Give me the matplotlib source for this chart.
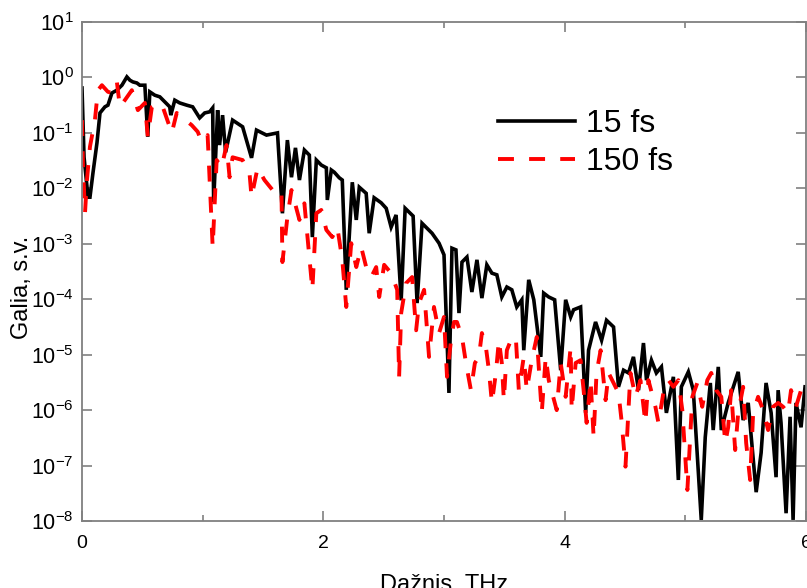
import numpy as np
import matplotlib
matplotlib.use("Agg")
import matplotlib.pyplot as plt
from matplotlib.ticker import FixedLocator, LogLocator, NullLocator, NullFormatter

plt.rcParams['font.family'] = ['Liberation Sans', 'DejaVu Sans']
plt.rcParams['mathtext.fontset'] = 'custom'
plt.rcParams['mathtext.rm'] = 'Liberation Sans'
plt.rcParams['mathtext.it'] = 'Liberation Sans:italic'
plt.rcParams['mathtext.bf'] = 'Liberation Sans:bold'

# ---- data: frequency (THz) and log10 of spectral power (a.u.) ----
freq_15fs = [0.0, 0.017, 0.05, 0.066, 0.091, 0.124, 0.149, 0.19, 0.215, 0.248, 0.289, 0.331, 0.372, 0.397,
             0.421, 0.455, 0.479, 0.521, 0.545, 0.562, 0.603, 0.645, 0.686, 0.727, 0.736, 0.769, 0.81, 0.868,
             0.917, 0.975, 1.017, 1.058, 1.083, 1.091, 1.124, 1.14, 1.165, 1.19, 1.248, 1.331, 1.405, 1.446,
             1.529, 1.62, 1.661, 1.702, 1.736, 1.769, 1.802, 1.843, 1.884, 1.909, 1.942, 1.983, 2.025, 2.033,
             2.066, 2.091, 2.132, 2.157, 2.19, 2.24, 2.273, 2.298, 2.355, 2.38, 2.421, 2.479, 2.521, 2.562,
             2.603, 2.645, 2.678, 2.711, 2.744, 2.777, 2.818, 2.86, 2.901, 2.959, 3.0, 3.041, 3.066, 3.099,
             3.124, 3.149, 3.19, 3.231, 3.273, 3.314, 3.355, 3.397, 3.438, 3.479, 3.521, 3.562, 3.603, 3.645,
             3.661, 3.702, 3.744, 3.802, 3.826, 3.868, 3.917, 3.967, 4.008, 4.05, 4.074, 4.132, 4.174, 4.198,
             4.256, 4.306, 4.347, 4.405, 4.446, 4.488, 4.529, 4.57, 4.612, 4.653, 4.678, 4.719, 4.76, 4.802,
             4.843, 4.901, 4.942, 4.967, 5.025, 5.066, 5.132, 5.165, 5.207, 5.231, 5.273, 5.298, 5.355, 5.438,
             5.479, 5.521, 5.587, 5.628, 5.669, 5.711, 5.752, 5.769, 5.793, 5.835, 5.868, 5.893, 5.917, 5.959,
             5.992]
log_power_15fs = [-0.19, -1.44, -2.16, -2.16, -1.72, -1.18, -0.64, -0.53, -0.50, -0.28, -0.23, -0.14, 0.01, -0.05,
                  -0.08, -0.10, -0.14, -0.14, -1.07, -0.26, -0.32, -0.35, -0.44, -0.53, -0.68, -0.41, -0.46, -0.50,
                  -0.53, -0.73, -0.64, -0.62, -0.55, -2.25, -0.59, -1.22, -0.68, -1.35, -0.77, -0.89, -1.45, -0.95,
                  -1.04, -1.00, -2.45, -1.13, -1.80, -1.27, -1.85, -1.31, -1.40, -2.88, -1.49, -1.58, -1.63, -2.21,
                  -1.67, -1.71, -1.81, -1.85, -3.83, -1.89, -2.57, -1.98, -2.09, -2.81, -2.17, -2.26, -2.36, -2.70,
                  -2.48, -4.02, -2.36, -2.43, -2.50, -4.07, -2.63, -2.72, -2.81, -2.99, -3.20, -5.69, -3.08, -3.11,
                  -4.25, -3.33, -3.24, -3.87, -3.29, -3.98, -3.38, -3.53, -3.56, -3.96, -3.78, -3.83, -4.14, -4.01,
                  -4.92, -3.65, -4.01, -5.04, -3.89, -3.96, -4.01, -5.28, -4.01, -4.32, -4.19, -4.14, -6.05, -4.92,
                  -4.41, -4.74, -4.38, -4.50, -5.58, -5.28, -5.33, -5.04, -5.64, -4.79, -5.46, -5.10, -5.33, -5.22,
                  -6.05, -5.40, -7.26, -5.58, -5.31, -5.64, -7.98, -6.49, -5.51, -6.36, -5.22, -6.36, -5.87, -5.31,
                  -6.18, -5.87, -7.48, -6.77, -5.51, -6.05, -7.21, -5.64, -6.23, -7.86, -6.12, -7.98, -5.87, -6.31,
                  -5.58]

freq_150fs = [0.0, 0.008, 0.025, 0.041, 0.066, 0.107, 0.132, 0.165, 0.215, 0.256, 0.289, 0.314, 0.355, 0.413,
              0.463, 0.521, 0.545, 0.579, 0.628, 0.669, 0.744, 0.785, 0.835, 0.909, 0.959, 0.992, 1.041, 1.083,
              1.116, 1.157, 1.198, 1.223, 1.248, 1.331, 1.388, 1.405, 1.455, 1.512, 1.579, 1.653, 1.661, 1.702,
              1.736, 1.802, 1.843, 1.909, 1.942, 1.983, 2.025, 2.074, 2.116, 2.157, 2.19, 2.231, 2.273, 2.314,
              2.355, 2.397, 2.438, 2.463, 2.504, 2.562, 2.612, 2.628, 2.645, 2.686, 2.736, 2.769, 2.793, 2.835,
              2.876, 2.917, 2.959, 3.0, 3.025, 3.058, 3.083, 3.107, 3.149, 3.182, 3.223, 3.256, 3.289, 3.314,
              3.347, 3.372, 3.397, 3.43, 3.455, 3.479, 3.496, 3.521, 3.554, 3.595, 3.62, 3.661, 3.686, 3.727,
              3.769, 3.81, 3.843, 3.868, 3.934, 3.967, 4.008, 4.05, 4.058, 4.091, 4.132, 4.157, 4.182, 4.215,
              4.24, 4.264, 4.298, 4.339, 4.364, 4.405, 4.446, 4.471, 4.504, 4.545, 4.587, 4.628, 4.669, 4.694,
              4.752, 4.777, 4.818, 4.86, 4.901, 4.942, 4.975, 5.017, 5.058, 5.099, 5.14, 5.182, 5.215, 5.256,
              5.298, 5.331, 5.355, 5.38, 5.413, 5.438, 5.479, 5.504, 5.537, 5.562, 5.603, 5.645, 5.686, 5.727,
              5.769, 5.81, 5.851, 5.876, 5.917, 5.959, 5.992]
log_power_150fs = [-0.77, -1.61, -2.44, -1.85, -1.25, -0.77, -0.23, -0.14, -0.26, -0.28, -0.08, -0.53, -0.41, -0.23,
                   -0.59, -0.46, -1.07, -0.53, -0.46, -0.53, -1.00, -0.64, -0.73, -0.86, -0.98, -1.16, -1.04, -3.06,
                   -1.49, -1.62, -1.22, -1.80, -1.44, -1.49, -1.72, -2.16, -1.63, -1.85, -2.03, -2.03, -3.33, -2.52,
                   -2.03, -2.57, -2.27, -3.83, -2.45, -2.39, -2.75, -2.88, -2.70, -3.29, -4.14, -2.99, -3.42, -3.06,
                   -3.42, -3.60, -3.42, -3.96, -3.38, -3.53, -3.83, -5.40, -4.25, -3.71, -3.60, -4.56, -4.07, -3.83,
                   -5.04, -4.14, -4.61, -4.32, -5.40, -4.74, -4.41, -4.41, -4.68, -5.15, -5.64, -5.15, -5.04, -4.61,
                   -4.86, -5.28, -5.87, -5.33, -4.74, -5.15, -5.82, -4.92, -4.74, -4.68, -5.64, -5.04, -5.64, -5.10,
                   -4.68, -6.05, -5.04, -5.46, -6.00, -5.15, -5.76, -4.86, -6.00, -5.15, -5.10, -5.64, -6.23, -5.46,
                   -6.49, -5.33, -4.92, -5.82, -5.33, -5.51, -5.69, -6.18, -7.02, -5.33, -5.76, -5.46, -6.23, -5.46,
                   -5.94, -6.23, -5.69, -5.46, -5.58, -5.46, -6.00, -7.44, -5.76, -5.51, -5.94, -5.46, -5.33, -5.64,
                   -5.76, -6.59, -6.31, -5.64, -6.72, -6.05, -5.58, -6.59, -7.26, -6.05, -5.76, -6.00, -6.36, -5.94,
                   -5.87, -5.94, -6.05, -5.64, -5.94, -5.64, -5.82]

series_labels = ["15 fs", "150 fs"]
x_label = "Dažnis, THz"
y_label = "Galia, s.v."

# ---- figure ----
W, H = 807, 588
fig = plt.figure(figsize=(W / 100, H / 100), dpi=100)
ax = fig.add_axes([82 / W, 1 - 521 / H, (806 - 82) / W, (521 - 22) / H])

ax.plot(freq_15fs, 10.0 ** np.array(log_power_15fs), color='black', lw=2.6,
        solid_joinstyle='miter', label=series_labels[0])
ax.plot(freq_150fs, 10.0 ** np.array(log_power_150fs), color='#ff0000', lw=2.8,
        dashes=(4.1, 3.9), label=series_labels[1])

ax.set_yscale('log')
ax.set_xlim(0, 6)
ax.set_ylim(1e-8, 1e1)

ax.xaxis.set_major_locator(FixedLocator([0, 2, 4, 6]))
ax.xaxis.set_minor_locator(FixedLocator([1, 3, 5]))
ax.yaxis.set_major_locator(LogLocator(base=10, numticks=20))
ax.yaxis.set_minor_locator(NullLocator())
ax.yaxis.set_minor_formatter(NullFormatter())

gray = '#808080'
for s in ax.spines.values():
    s.set_color(gray)
    s.set_linewidth(1.3)
ax.tick_params(which='both', direction='in', color=gray, top=True, right=True,
               labelcolor='black', width=1.2)
ax.tick_params(which='major', length=7)
ax.tick_params(which='minor', length=4)
ax.tick_params(axis='x', labelsize=14, pad=10)
ax.tick_params(axis='y', labelsize=15.5, pad=6)

ax.set_xlabel(x_label, fontsize=17, labelpad=16)
ax.set_ylabel(y_label, fontsize=17)
ax.yaxis.set_label_coords(-0.068, 0.469)

leg = ax.legend(loc='upper left', bbox_to_anchor=(0.575, 0.826), frameon=False,
                fontsize=23, handlelength=2.4, handletextpad=0.35, labelspacing=0.25,
                borderaxespad=0, borderpad=0)

fig.savefig('out.png', dpi=100)
